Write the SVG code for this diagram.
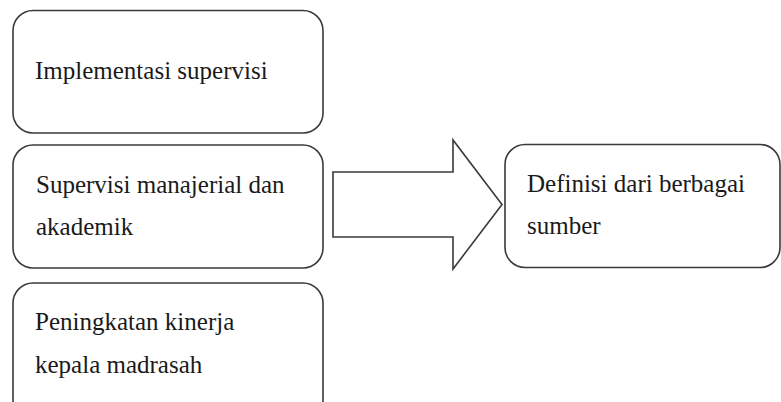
<svg xmlns="http://www.w3.org/2000/svg" width="781" height="402" viewBox="0 0 781 402">
<style>
.box{fill:#fff;stroke:#3a3a3a;stroke-width:1.6}
.arrow{fill:#fff;stroke:#3a3a3a;stroke-width:1.6;stroke-linejoin:miter}
</style>
<rect width="781" height="402" fill="#fff"/>
<g id="node-implementasi">
<rect class="box" x="13" y="10.5" width="310" height="122.5" rx="20" ry="20"/>
<text x="35" y="79" font-family="Times New Roman, Liberation Serif, Tinos, serif" font-size="25" fill="#1a1a1a">Implementasi supervisi</text>
</g>
<g id="node-supervisi">
<rect class="box" x="13" y="145" width="310" height="123" rx="20" ry="20"/>
<text x="36" y="193" font-family="Times New Roman, Liberation Serif, Tinos, serif" font-size="25" fill="#1a1a1a">Supervisi manajerial dan</text>
<text x="36" y="235" font-family="Times New Roman, Liberation Serif, Tinos, serif" font-size="25" fill="#1a1a1a">akademik</text>
</g>
<g id="node-peningkatan">
<rect class="box" x="13" y="283" width="310" height="140" rx="20" ry="20"/>
<text x="35" y="330" font-family="Times New Roman, Liberation Serif, Tinos, serif" font-size="25" fill="#1a1a1a">Peningkatan kinerja</text>
<text x="35" y="373" font-family="Times New Roman, Liberation Serif, Tinos, serif" font-size="25" fill="#1a1a1a">kepala madrasah</text>
</g>
<g id="connectors">
<polygon class="arrow" points="333,172 453,172 453,140 502,204.5 453,269 453,237 333,237"/>
</g>
<g id="node-definisi">
<rect class="box" x="505" y="144.5" width="275" height="123" rx="20" ry="20"/>
<text x="527" y="192" font-family="Times New Roman, Liberation Serif, Tinos, serif" font-size="25" fill="#1a1a1a">Definisi dari berbagai</text>
<text x="527" y="234" font-family="Times New Roman, Liberation Serif, Tinos, serif" font-size="25" fill="#1a1a1a">sumber</text>
</g>
</svg>
